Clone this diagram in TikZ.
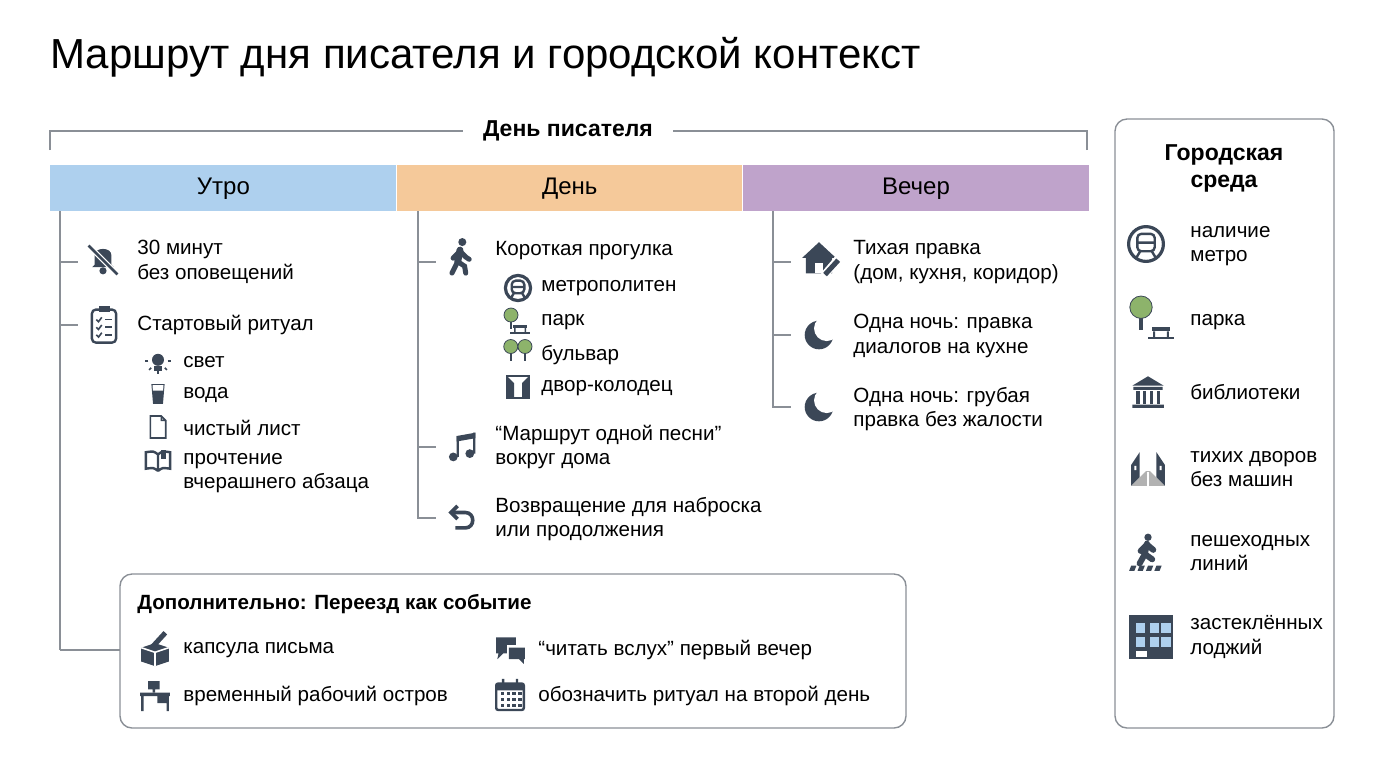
\documentclass[tikz,border=0pt]{standalone}
\usepackage{fontspec}
\setmainfont{Liberation Sans}
\usetikzlibrary{positioning}
\definecolor{iconc}{HTML}{3B4757}
\definecolor{morn}{HTML}{AED0EE}
\definecolor{noon}{HTML}{F5C99A}
\definecolor{eve}{HTML}{BFA3CB}
\definecolor{linec}{HTML}{8A8F96}
\definecolor{leaf}{HTML}{8DB36B}
\tikzset{txt/.style = {anchor=west, align=left, font=\fontsize{10.3}{12.3}\selectfont, inner sep=0pt}}
\tikzset{head/.style = {minimum height=23pt, inner sep=0pt, font=\fontsize{12}{14}\selectfont}}
\tikzset{tline/.style = {draw=linec, line width=0.6pt}}
\tikzset{panel/.style = {draw=linec, rounded corners=6pt, line width=0.7pt}}
\tikzset{
ic/.style = {iconc, line width=1.2pt},
bell/.pic = {\fill[iconc] (-9,6) -- (-7,4) -- (-7,-4) .. controls (-7,-11) and (7,-11) .. (7,-4) -- (7,4) -- (9,6) -- cycle;
  \fill[iconc] (0,9) circle (3); \draw[white,line width=2.5pt] (-12,-12) -- (12,12); \draw[ic,line width=1.3pt] (-12,-12) -- (12,12);},
clip/.pic = {\draw[ic,rounded corners=2pt] (-11,-14) rectangle (11,16); \fill[iconc] (-5,-17) rectangle (5,-12);
  \foreach \y in {-5,2,9} {\draw[ic,line width=0.8pt] (-7,\y) -- (-5,\y+2) -- (-2,\y-2); \draw[ic,line width=0.8pt] (1,\y) -- (7,\y);}},
bulb/.pic = {\fill[iconc] (0,-1) circle (5); \fill[iconc] (-3,4) rectangle (3,8);
  \foreach \a in {90,135,45,180,0} \draw[ic,line width=0.8pt] (\a:8) -- (\a:10.5);},
cup/.pic = {\fill[iconc] (-6,-9) -- (6,-9) -- (4.5,9) -- (-4.5,9) -- cycle; \fill[white] (-5,-8) -- (5,-8) -- (4.6,-3) -- (-4.6,-3) -- cycle;},
page/.pic = {\draw[ic,line width=0.8pt] (-7,-10) -- (3,-10) -- (7,-6) -- (7,10) -- (-7,10) -- cycle (3,-10) -- (3,-6) -- (7,-6);},
book/.pic = {\draw[ic] (0,-6) -- (0,9) (0,-6) .. controls (-4,-9) .. (-11,-8) -- (-11,7) .. controls (-4,6) .. (0,9)
  (0,-6) .. controls (4,-9) .. (11,-8) -- (11,7) .. controls (4,6) .. (0,9); \fill[iconc] (3,-10) rectangle (7,-2);},
walk/.pic = {\fill[iconc] (2,-13) circle (3.5); \draw[iconc,line width=3.5pt,line cap=round] (0,-6) -- (-2,4);
  \draw[iconc,line width=2.5pt,line cap=round] (-2,4) -- (-7,14) (-2,4) -- (4,8) -- (5,14) (0,-5) -- (-6,1) (0,-5) -- (5,0) -- (8,2);},
metro/.pic = {\draw[ic,line width=1.6pt] (0,0) circle (12); \draw[ic,rounded corners=2pt] (-6,-7) rectangle (6,5);
  \draw[ic] (-6,-1) -- (6,-1) (-4,5) -- (-7,10) (4,5) -- (7,10);},
tree/.pic = {\fill[iconc] (-1,0) rectangle (1,11); \fill[leaf] (0,-3) circle (7); \draw[iconc] (0,-3) circle (7);},
bench/.pic = {\fill[iconc] (-7,-2) rectangle (7,1); \fill[iconc] (-6,1) rectangle (-4.5,6) (4.5,1) rectangle (6,6); \draw[ic] (-10,6) -- (10,6);},
yard/.pic = {\draw[ic] (-11,-11) rectangle (11,11); \fill[iconc] (-11,-11) -- (-4,-4) -- (-4,11) -- (-11,11) -- cycle (11,-11) -- (4,-4) -- (4,11) -- (11,11) -- cycle;},
note/.pic = {\fill[iconc] (-7,9) circle (4) (8,6) circle (4); \fill[iconc] (-4,9) rectangle (-2,-10) (11,6) rectangle (13,-13);
  \fill[iconc] (-4,-10) -- (13,-13) -- (13,-8) -- (-4,-5) -- cycle;},
back/.pic = {\draw[ic,line width=1.8pt] (-9,-5) -- (3,-5) .. controls (12,-5) and (12,9) .. (3,9) -- (-6,9); \draw[ic,line width=1.8pt] (-4,-11) -- (-10,-5) -- (-4,1);},
house/.pic = {\fill[iconc] (-14,-1) -- (0,-14) -- (14,-1) -- (11,-1) -- (11,12) -- (-11,12) -- (-11,-1) -- cycle; \fill[white] (-3,3) rectangle (3,12);
  \draw[white,line width=4pt] (4,14) -- (16,0); \draw[iconc,line width=2.5pt] (5,13) -- (16,1);},
moon/.pic = {\fill[iconc] (0,0) circle (13); \fill[white] (7,-6) circle (11.5);},
capsule/.pic = {\fill[iconc] (-12,-2) -- (0,-6) -- (12,-2) -- (12,10) -- (0,14) -- (-12,10) -- cycle; \draw[white,line width=0.8pt] (-12,-2) -- (0,2) -- (12,-2) (0,2) -- (0,14);
  \draw[iconc,line width=2.5pt] (-2,-3) -- (9,-15);},
desk/.pic = {\fill[iconc] (-13,-2) rectangle (13,1) (-12,1) rectangle (-10,14) (10,1) rectangle (12,14) (2,1) rectangle (11,7); \fill[iconc] (-6,-12) rectangle (4,-5) (-2,-5) rectangle (0,-2);},
chat/.pic = {\fill[iconc] (-12,-11) rectangle (5,3) (-10,3) -- (-6,3) -- (-11,8) -- cycle; \fill[white] (-3,-4) rectangle (14,9); \fill[iconc] (-1,-2) rectangle (13,8) (8,8) -- (12,8) -- (12,12) -- cycle;},
cal/.pic = {\draw[ic,rounded corners=1pt] (-12,-10) rectangle (12,13); \fill[iconc] (-12,-10) rectangle (12,-4) (-7,-14) rectangle (-5,-8) (5,-14) rectangle (7,-8);
  \foreach \i in {-8,-3,2,7} \foreach \j in {0,5,10} \fill[iconc] (\i,\j) rectangle +(3,-2.5);},
library/.pic = {\fill[iconc] (-15,-6) -- (0,-15) -- (15,-6) -- cycle (-14,-5) rectangle (14,-2) (-15,12) rectangle (15,15);
  \foreach \i in {-11,-4.5,2,8.5} \fill[iconc] (\i,-1) rectangle +(3,12);},
street/.pic = {\fill[iconc] (-16,-4) -- (-8,-16) -- (-8,8) -- (-16,16) -- cycle (16,-4) -- (8,-16) -- (8,8) -- (16,16) -- cycle;
  \fill[gray!60] (-16,16) -- (-2,2) -- (2,2) -- (16,16) -- cycle; \draw[white,line width=1pt] (0,3) -- (0,16); \fill[white] (-13,-3) rectangle (-11,1) (11,-3) rectangle (13,1);},
cross/.pic = {\fill[iconc] (0,-15) circle (3.5); \draw[iconc,line width=3pt,line cap=round] (-1,-9) -- (-3,1) -- (-8,10) (-3,1) -- (4,6) (-1,-8) -- (-7,-2) (-1,-8) -- (5,-3);
  \foreach \i in {-16,-8,0,8} \fill[iconc] (\i,12) -- (\i+5,12) -- (\i+3,17) -- (\i-2,17) -- cycle;},
bldg/.pic = {\fill[iconc] (-16,-16) rectangle (16,16); \foreach \i in {-11,-1,7} \foreach \j in {-10,0} \fill[morn] (\i,\j) rectangle +(7,7); \fill[white] (-11,10) rectangle (-3,14);}
}
\begin{document}
\begin{tikzpicture}[x=0.5pt,y=-0.5pt]
\useasboundingbox (0,0) rectangle (1376,768);
% title
\node[anchor=west, inner sep=0pt, font=\fontsize{21}{25}\selectfont] (title) at (50,57) {Маршрут дня писателя и городской контекст};

% day bracket
\node[font=\bfseries\fontsize{11.5}{14}\selectfont, inner xsep=10pt] (daylabel) at (568,131) {День писателя};
\coordinate (bl) at (50,150); \coordinate (br) at (1087,150);
\draw[tline] (bl) |- (daylabel.west);
\draw[tline] (br) |- (daylabel.east);

% headers
\node[head, fill=morn, minimum width=173pt, anchor=north west] (morning) at (50,165) {Утро};
\node[head, fill=noon, minimum width=172.5pt, right=0pt of morning] (noonh) {День};
\node[head, fill=eve, minimum width=173pt, right=0pt of noonh] (evening) {Вечер};

% morning
\coordinate (m0) at (60,211); \coordinate (m1) at (60,262); \coordinate (m2) at (60,325); \coordinate (m3) at (60,650);
\draw[tline] (m0) -- (m3);
\draw[tline] (m1) -- +(18,0); \draw[tline] (m2) -- +(18,0);
\pic[scale=1.2] at (103,260) {bell};
\node[txt] (m1t) at (137,262) {30 минут\\без оповещений};
\pic[scale=1.1] at (104,325) {clip};
\node[txt] (m2t) at (137,325) {Стартовый ритуал};
\pic[scale=1.2] at (158,361) {bulb}; \node[txt] (ma) at (183,362) {свет};
\pic[scale=1.1] at (158,394) {cup}; \node[txt] (mb) at (183,395) {вода};
\pic[scale=1.1] at (158,427) {page}; \node[txt] (mc) at (183,428) {чистый лист};
\pic[scale=1.1] at (158,461) {book}; \node[txt] (md) at (183,473) {прочтение\\вчерашнего абзаца};

% day
\coordinate (d0) at (418,211); \coordinate (d1) at (418,262); \coordinate (d2) at (418,447); \coordinate (d3) at (418,518);
\draw[tline] (d0) -- (d3) -- +(18,0);
\draw[tline] (d1) -- +(18,0); \draw[tline] (d2) -- +(18,0);
\pic[scale=1.15] at (460,257) {walk};
\node[txt] (d1t) at (495,251) {Короткая прогулка};
\pic[scale=1.05] at (518,288) {metro}; \node[txt] (da) at (541,288) {метрополитен};
\pic at (511,318) {tree}; \pic at (520,327) {bench}; \node[txt] (db) at (541,322) {парк};
\begin{scope}[scale=0.75]\pic at (681,466) {tree}; \pic at (700,466) {tree};\end{scope}
\node[txt] (dc) at (541,355) {бульвар};
\pic at (518,387) {yard}; \node[txt] (dd) at (541,388) {двор-колодец};
\pic[scale=1.1] at (461,447) {note};
\node[txt] (d2t) at (495,447) {“Маршрут одной песни”\\вокруг дома};
\pic[scale=1.1] at (462,518) {back};
\node[txt] (d3t) at (495,519) {Возвращение для наброска\\или продолжения};

% evening
\coordinate (e0) at (773,211); \coordinate (e1) at (773,262); \coordinate (e2) at (773,335); \coordinate (e3) at (773,407);
\draw[tline] (e0) -- (e3) -- +(18,0);
\draw[tline] (e1) -- +(18,0); \draw[tline] (e2) -- +(18,0);
\pic[scale=1.2] at (819,259) {house};
\node[txt] (e1t) at (853,262) {Тихая правка\\(дом, кухня, коридор)};
\pic[scale=1.1] at (819,335) {moon};
\node[txt] (e2t) at (853,336) {Одна ночь: правка\\диалогов на кухне};
\pic[scale=1.1] at (819,407) {moon};
\node[txt] (e3t) at (853,409) {Одна ночь: грубая\\правка без жалости};

% extra box
\draw[panel] (120,574) rectangle (906,728);
\coordinate (boxl) at (120,650);
\draw[tline] (m3) -- (boxl);
\node[txt, font=\bfseries\fontsize{10.3}{12.3}\selectfont] (extra) at (137,604) {Дополнительно: Переезд как событие};
\pic[scale=1.15] at (155,650) {capsule}; \node[txt] (xa) at (183,650) {капсула письма};
\pic[scale=1.15] at (155,695) {desk}; \node[txt] (xb) at (183,696) {временный рабочий остров};
\pic[scale=1.15] at (510,650) {chat}; \node[txt] (xc) at (538,650) {“читать вслух” первый вечер};
\pic[scale=1.15] at (510,695) {cal}; \node[txt] (xd) at (538,696) {обозначить ритуал на второй день};

% city panel
\draw[panel] (1115,119) rectangle (1334,728);
\node[align=center, font=\bfseries\fontsize{11.5}{13.5}\selectfont] (city) at (1224,168) {Городская\\среда};
\pic[scale=1.45] at (1146,244) {metro};
\node[txt] (ca) at (1190,246) {наличие\\метро};
\pic[scale=1.6] at (1141,312) {tree}; \pic[scale=1.3] at (1161,330) {bench};
\node[txt] (cb) at (1190,322) {парка};
\pic[scale=1.05] at (1148,392) {library};
\node[txt] (cc) at (1190,392) {библиотеки};
\pic[scale=1.05] at (1148,469) {street};
\node[txt] (cd) at (1190,469) {тихих дворов\\без машин};
\pic[scale=1.05] at (1148,553) {cross};
\node[txt] (ce) at (1190,553) {пешеходных\\линий};
\pic[scale=1.4] at (1151,637) {bldg};
\node[txt] (cf) at (1190,637) {застеклённых\\лоджий};
\end{tikzpicture}
\end{document}
